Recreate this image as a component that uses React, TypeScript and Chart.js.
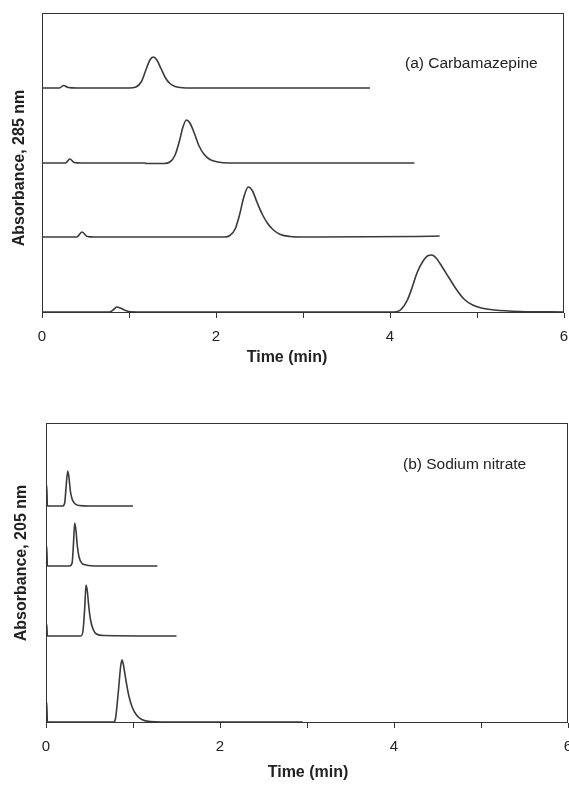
import React, { useEffect, useRef } from "react";
import { Chart, registerables } from "chart.js";

Chart.register(...registerables);

// ---------- shared axis data ----------
const timeTicks = [0, 1, 2, 3, 4, 5, 6];
const timeTickLabels = ["0", "", "2", "", "4", "", "6"];

// ---------- (a) Carbamazepine, absorbance 285 nm (offset traces) ----------
const carbT1 = [0, 0.2, 0.25, 0.3, 0.4, 1.0, 1.08, 1.14, 1.19, 1.24, 1.28, 1.32, 1.37, 1.42, 1.47, 1.53, 1.62, 1.8, 3.77];
const carbA1 = [225, 225, 227.5, 225.5, 225, 225, 226, 231, 242, 253, 256, 253, 244, 235, 229.5, 226.5, 225.3, 225, 225];

const carbT2 = [0, 0.27, 0.32, 0.37, 0.45, 1.18, 1.2, 1.4, 1.47, 1.53, 1.58, 1.62, 1.66, 1.7, 1.75, 1.8, 1.86, 1.93, 2.02, 2.15, 4.28];
const carbA2 = [150, 150, 154, 150.5, 150, 150, 149.5, 149.5, 151, 158, 172, 186, 193, 190, 180, 168, 159, 153.5, 151, 150, 150];

const carbT3 = [0, 0.4, 0.46, 0.52, 0.6, 2.1, 2.16, 2.22, 2.27, 2.32, 2.37, 2.42, 2.47, 2.53, 2.59, 2.66, 2.74, 2.85, 3.0, 4.3, 4.57];
const carbA3 = [76, 76, 81, 76.5, 76, 76, 77.5, 84, 98, 116, 126, 122, 111, 99, 90, 83, 78.5, 76.5, 76, 76.5, 77];

const carbT4 = [0, 0.78, 0.83, 0.86, 0.9, 0.96, 1.02, 1.2, 4.05, 4.12, 4.2, 4.26, 4.31, 4.38, 4.44, 4.48, 4.53, 4.6, 4.68, 4.76, 4.85, 4.95, 5.05, 5.2, 5.5, 6.0];
const carbA4 = [1, 1, 4, 6, 5, 2.5, 1.2, 1, 1, 3, 13, 27, 40, 52, 57.5, 58, 55, 46, 35, 24, 14, 8, 5, 3, 1.5, 1];

// ---------- (b) Sodium nitrate, absorbance 205 nm (offset traces) ----------
const nitT1 = [0, 0.008, 0.016, 0.19, 0.215, 0.23, 0.25, 0.265, 0.28, 0.3, 0.33, 0.38, 0.5, 1.0];
const nitA1 = [217, 238, 217, 217, 220, 235, 252, 245, 232, 224, 219.5, 217.5, 217, 217];

const nitT2 = [0, 0.008, 0.016, 0.27, 0.3, 0.315, 0.33, 0.345, 0.36, 0.38, 0.41, 0.46, 0.6, 1.28];
const nitA2 = [157, 177, 157, 157, 160, 178, 200, 192, 177, 166, 160, 158, 157, 157];

const nitT3 = [0, 0.008, 0.016, 0.4, 0.425, 0.445, 0.46, 0.475, 0.49, 0.51, 0.54, 0.58, 0.66, 1.5];
const nitA3 = [87, 99, 87, 87, 92, 115, 138, 132, 118, 104, 94, 89, 87.5, 87];

const nitT4 = [0, 0.008, 0.016, 0.78, 0.8, 0.83, 0.86, 0.875, 0.89, 0.92, 0.95, 0.99, 1.04, 1.1, 1.2, 1.5, 2.95];
const nitA4 = [1, 21, 1, 1, 5, 30, 58, 63, 58, 42, 28, 16, 8, 3.5, 1.5, 1, 1];

const FONT = '"Liberation Sans", Arial, Helvetica, sans-serif';
const INK = "#333333";

type Trace = { t: number[]; a: number[] };

interface PanelSpec {
  canvasW: number;
  canvasH: number;
  padTop: number;
  padLeft: number;
  padRight: number;
  xAxisH: number;
  traces: Trace[];
  label: string;
  labelX: number;
  labelY: number;
  xTitle: string;
  xTitleX: number;
  xTitleY: number;
  yTitle: string;
  yTitleX: number;
  yTitleY: number;
}

function buildConfig(spec: PanelSpec): any {
  const framePlugin = {
    id: "frameAndText",
    afterDraw(chart: any) {
      const { ctx, chartArea: a } = chart;
      ctx.save();
      ctx.strokeStyle = INK;
      ctx.lineWidth = 1;
      const l = Math.round(a.left) + 0.5;
      const t = Math.round(a.top) + 0.5;
      const r = Math.round(a.right) - 0.5;
      const b = Math.round(a.bottom) - 0.5;
      ctx.strokeRect(l, t, r - l, b - t);

      ctx.fillStyle = "#222";
      ctx.textBaseline = "middle";
      ctx.font = `15.5px ${FONT}`;
      ctx.textAlign = "left";
      ctx.fillText(spec.label, spec.labelX, spec.labelY);

      ctx.font = `bold 16px ${FONT}`;
      ctx.textAlign = "center";
      ctx.fillText(spec.xTitle, spec.xTitleX, spec.xTitleY);

      ctx.translate(spec.yTitleX, spec.yTitleY);
      ctx.rotate(-Math.PI / 2);
      ctx.fillText(spec.yTitle, 0, 0);
      ctx.restore();
    },
  };

  return {
    type: "line",
    data: {
      datasets: spec.traces.map((tr) => ({
        data: tr.t.map((x, i) => ({ x, y: tr.a[i] })),
        borderColor: "#3a3a3a",
        borderWidth: 1.6,
        pointRadius: 0,
        fill: false,
        tension: 0.4,
        cubicInterpolationMode: "monotone",
      })),
    },
    options: {
      animation: false,
      responsive: false,
      maintainAspectRatio: false,
      devicePixelRatio: 1,
      layout: {
        padding: { top: spec.padTop, left: spec.padLeft, right: spec.padRight, bottom: 0 },
      },
      plugins: {
        legend: { display: false },
        tooltip: { enabled: false },
        title: { display: false },
      },
      scales: {
        x: {
          type: "linear",
          min: 0,
          max: 6,
          afterBuildTicks: (scale: any) => {
            scale.ticks = timeTicks.map((v) => ({ value: v }));
          },
          afterFit: (scale: any) => {
            scale.height = spec.xAxisH;
            scale.paddingLeft = 0;
            scale.paddingRight = 0;
          },
          ticks: {
            autoSkip: false,
            maxRotation: 0,
            padding: 10,
            color: "#222",
            font: { family: FONT, size: 15 },
            callback: (v: number) => {
              const i = timeTicks.indexOf(v);
              return i >= 0 ? timeTickLabels[i] : "";
            },
          },
          grid: {
            display: true,
            drawOnChartArea: false,
            drawTicks: true,
            tickLength: 5,
            color: INK,
            lineWidth: 1,
          },
          border: { display: false },
        },
        y: {
          type: "linear",
          display: false,
          min: 0,
          max: 300,
        },
      },
    },
    plugins: [framePlugin],
  };
}

function Panel({ spec, top }: { spec: PanelSpec; top: number }) {
  const ref = useRef<HTMLCanvasElement | null>(null);
  useEffect(() => {
    if (!ref.current) return;
    const chart = new Chart(ref.current, buildConfig(spec));
    return () => chart.destroy();
  }, [spec]);
  return (
    <canvas
      ref={ref}
      width={spec.canvasW}
      height={spec.canvasH}
      style={{
        position: "absolute",
        left: 0,
        top,
        width: spec.canvasW,
        height: spec.canvasH,
        display: "block",
      }}
    />
  );
}

const specA: PanelSpec = {
  canvasW: 569,
  canvasH: 380,
  padTop: 13,
  padLeft: 42,
  padRight: 5,
  xAxisH: 67,
  traces: [
    { t: carbT1, a: carbA1 },
    { t: carbT2, a: carbA2 },
    { t: carbT3, a: carbA3 },
    { t: carbT4, a: carbA4 },
  ],
  label: "(a) Carbamazepine",
  labelX: 405,
  labelY: 64,
  xTitle: "Time (min)",
  xTitleX: 287,
  xTitleY: 358,
  yTitle: "Absorbance, 285 nm",
  yTitleX: 20,
  yTitleY: 168,
};

const specB: PanelSpec = {
  canvasW: 569,
  canvasH: 405,
  padTop: 43,
  padLeft: 46,
  padRight: 1,
  xAxisH: 62,
  traces: [
    { t: nitT1, a: nitA1 },
    { t: nitT2, a: nitA2 },
    { t: nitT3, a: nitA3 },
    { t: nitT4, a: nitA4 },
  ],
  label: "(b) Sodium nitrate",
  labelX: 403,
  labelY: 85,
  xTitle: "Time (min)",
  xTitleX: 308,
  xTitleY: 393,
  yTitle: "Absorbance, 205 nm",
  yTitleX: 22,
  yTitleY: 183,
};

export default function App() {
  return (
    <div
      style={{
        position: "fixed",
        left: 0,
        top: 0,
        width: 569,
        height: 785,
        overflow: "hidden",
        background: "#ffffff",
      }}
    >
      <Panel spec={specA} top={0} />
      <Panel spec={specB} top={380} />
    </div>
  );
}
